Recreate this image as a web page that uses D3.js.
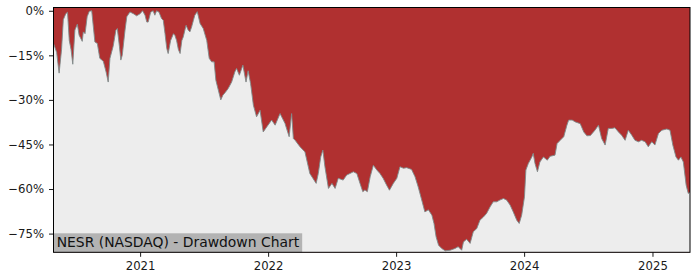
<!DOCTYPE html>
<html>
<head>
<meta charset="utf-8">
<script src="https://cdn.jsdelivr.net/npm/d3@7"></script>
<style>
  body { margin: 0; background: #fff; }
  svg { display: block; font-family: "DejaVu Sans", sans-serif; }
</style>
</head>
<body>
<svg width="700" height="280"></svg>
<script>
// drawdown series (percent below previous peak)
var dates = [
  "2020-04-29","2020-05-08","2020-05-15","2020-05-22","2020-05-27","2020-06-03","2020-06-08","2020-06-13",
  "2020-06-18","2020-06-23","2020-06-29","2020-07-06","2020-07-11","2020-07-20","2020-07-23","2020-07-28",
  "2020-08-03","2020-08-09","2020-08-16","2020-08-25","2020-09-01","2020-09-08","2020-09-18","2020-09-26",
  "2020-10-02","2020-10-07","2020-10-16","2020-10-24","2020-10-28","2020-11-03","2020-11-07","2020-11-11",
  "2020-11-19","2020-11-24","2020-12-03","2020-12-13","2020-12-22","2021-01-01","2021-01-08","2021-01-15",
  "2021-01-20","2021-01-24","2021-01-31","2021-02-07","2021-02-12","2021-02-17","2021-02-24","2021-03-03",
  "2021-03-08","2021-03-13","2021-03-18","2021-03-22","2021-03-29","2021-04-06","2021-04-10","2021-04-15",
  "2021-04-20","2021-04-25","2021-04-30","2021-05-04","2021-05-12","2021-05-18","2021-05-23","2021-05-28",
  "2021-06-02","2021-06-06","2021-06-13","2021-06-21","2021-06-30","2021-07-10","2021-07-17","2021-07-24",
  "2021-07-31","2021-08-05","2021-08-12","2021-08-19","2021-08-25","2021-08-31","2021-09-09","2021-09-19",
  "2021-09-28","2021-10-03","2021-10-11","2021-10-21","2021-10-30","2021-11-05","2021-11-12","2021-11-20",
  "2021-11-29","2021-12-09","2021-12-18","2021-12-28","2022-01-11","2022-01-21","2022-02-04","2022-02-18",
  "2022-03-02","2022-03-09","2022-03-14","2022-03-19","2022-04-02","2022-04-16","2022-04-30","2022-05-18",
  "2022-05-24","2022-05-31","2022-06-06","2022-06-12","2022-06-22","2022-07-02","2022-07-11","2022-07-20",
  "2022-08-03","2022-08-13","2022-08-22","2022-09-01","2022-09-11","2022-09-20","2022-09-28","2022-10-04",
  "2022-10-11","2022-10-19","2022-10-28","2022-11-07","2022-11-16","2022-11-25","2022-12-05","2022-12-13",
  "2022-12-24","2023-01-03","2023-01-12","2023-01-22","2023-01-31","2023-02-14","2023-02-24","2023-03-05",
  "2023-03-15","2023-03-24","2023-04-03","2023-04-13","2023-04-19","2023-04-25","2023-05-02","2023-05-11",
  "2023-05-21","2023-06-04","2023-06-18","2023-06-27","2023-07-07","2023-07-12","2023-07-21","2023-07-31",
  "2023-08-09","2023-08-19","2023-08-28","2023-09-07","2023-09-16","2023-09-26","2023-10-05","2023-10-15",
  "2023-10-24","2023-11-03","2023-11-12","2023-11-22","2023-12-01","2023-12-11","2023-12-18","2023-12-25",
  "2024-01-02","2024-01-06","2024-01-13","2024-01-23","2024-01-27","2024-02-01","2024-02-08","2024-02-15",
  "2024-02-25","2024-03-07","2024-03-15","2024-03-29","2024-04-04","2024-04-13","2024-04-23","2024-05-02",
  "2024-05-07","2024-05-17","2024-05-26","2024-06-09","2024-06-19","2024-06-28","2024-07-08","2024-07-21",
  "2024-07-31","2024-08-09","2024-08-19","2024-08-28","2024-09-07","2024-09-16","2024-09-26","2024-10-05",
  "2024-10-15","2024-10-24","2024-11-03","2024-11-12","2024-11-22","2024-12-01","2024-12-11","2024-12-20",
  "2024-12-30","2025-01-08","2025-01-18","2025-01-28","2025-02-11","2025-02-20","2025-02-28","2025-03-09",
  "2025-03-16","2025-03-23","2025-03-30","2025-04-07","2025-04-13","2025-04-18"
];
var drawdown = [
  -11, -14, -21, -13, -3, -1, -0.5, -10,
  -13, -18, -6.5, -4.5, -8.2, -10.3, -7.1, -7.7,
  -2, -0.2, 0, -10.5, -11, -16, -17, -20.6,
  -24, -16, -12, -6.5, -6, -12, -16.6, -15,
  -6.5, -2, -0.4, -1, -1.7, -1, 0, -1.5,
  -3.8, -3.8, -0.5, 0, -1.5, 0, -0.5, -2.6,
  -3.2, -7.7, -12.7, -14.4, -10, -7.7, -8.2, -10,
  -13, -14.4, -10, -8.8, -4.9, -6.5, -7.1, -5.4,
  -3.2, -1.5, -0.3, -4.3, -6, -10, -16, -17.2,
  -17.2, -23.4, -26.7, -30, -28.4, -27.6, -26.2, -24,
  -20.6, -19.4, -21.7, -18.3, -24, -20.2, -24.5, -31.8,
  -35.7, -33.5, -40.8, -39.1, -36.8, -38.5, -34.6, -37.9,
  -42.4, -34.6, -43, -43.6, -45.8, -47.5, -54.8, -58.1,
  -54.8, -49.2, -46.9, -52.5, -59.8, -58.1, -59.8, -56.4,
  -57, -55.3, -54.8, -54.2, -54.8, -58.1, -60.9, -60.3,
  -60.9, -55.9, -52, -53.6, -54.8, -56.4, -58.7, -60.4,
  -58.1, -56.4, -52.5, -53, -52.8, -53.4, -55.9, -59.3,
  -63.7, -67.7, -67, -68.8, -71.6, -76.1, -78.9, -80,
  -80.8, -80.6, -80, -79.4, -80.6, -77.8, -76.9, -78.3,
  -74.4, -73.3, -70.5, -69.4, -68.2, -66, -64.3, -64.3,
  -63.7, -63.2, -63.7, -65.4, -67.7, -70.5, -71.6, -68.8,
  -62.6, -53.6, -51.4, -49.2, -48, -51.4, -54.2, -50.9,
  -49.2, -50.3, -49, -48.6, -44.7, -43.6, -42.4, -38.5,
  -36.8, -36.8, -37.4, -38, -40.8, -42.1, -42, -40.2,
  -38.5, -43, -45.2, -39.6, -39.6, -39.4, -40.8, -41.9,
  -43.6, -40.2, -41.9, -43.6, -44.1, -43.6, -44.1, -45.8,
  -44.1, -45.2, -41.3, -40.2, -39.8, -40.2, -45.2, -49.2,
  -50.3, -49.2, -50.9, -58.7, -61.5, -61
];
var yTicks = [0, -15, -30, -45, -60, -75];
var xTickDates = ["2021-01-01", "2022-01-01", "2023-01-01", "2024-01-01", "2025-01-01"];
var xTickLabels = ["2021", "2022", "2023", "2024", "2025"];
var chartLabel = "NESR (NASDAQ) - Drawdown Chart";

var parse = d3.timeParse("%Y-%m-%d");
var data = dates.map(function(d, i) { return {date: parse(d), value: drawdown[i]}; });

var plotLeft = 53.5, plotRight = 690, plotTop = 7.5, plotBottom = 252.3;

var svg = d3.select("svg");

var x = d3.scaleTime()
  .domain(d3.extent(data, function(d) { return d.date; }))
  .range([plotLeft, plotRight]);

var y = d3.scaleLinear()
  .domain([-81.3, 1.1])
  .range([plotBottom, plotTop]);

// red background of the plot = distance to the peak
svg.append("rect")
  .attr("x", plotLeft).attr("y", plotTop)
  .attr("width", plotRight - plotLeft).attr("height", plotBottom - plotTop)
  .attr("fill", "#b03030");

// gray area below the drawdown line
var area = d3.area()
  .x(function(d) { return x(d.date); })
  .y0(plotBottom)
  .y1(function(d) { return y(d.value); });

svg.append("path")
  .datum(data)
  .attr("d", area)
  .attr("fill", "#ededed");

var line = d3.line()
  .x(function(d) { return x(d.date); })
  .y(function(d) { return y(d.value); });

svg.append("path")
  .datum(data)
  .attr("d", line)
  .attr("fill", "none")
  .attr("stroke", "#7f8a8a")
  .attr("stroke-width", 0.9);

// label box
var labelG = svg.append("g");
var labelText = labelG.append("text")
  .attr("x", plotLeft + 3.2)
  .attr("y", 246.7)
  .attr("font-size", "13.9px")
  .attr("fill", "#111")
  .text(chartLabel);
var bb = labelText.node().getBBox();
labelG.insert("rect", "text")
  .attr("x", plotLeft)
  .attr("y", 233.3)
  .attr("width", bb.x + bb.width + 2.5 - plotLeft)
  .attr("height", plotBottom - 233.3)
  .attr("fill", "#b3b3b3");

// axes
var yAxis = d3.axisLeft(y)
  .tickValues(yTicks)
  .tickSize(4.5)
  .tickPadding(5)
  .tickFormat(function(d) { return (d < 0 ? "\u2212" + (-d) : d) + "%"; });

var xAxis = d3.axisBottom(x)
  .tickValues(xTickDates.map(parse))
  .tickSize(4.5)
  .tickPadding(4.5)
  .tickFormat(function(d, i) { return xTickLabels[i]; });

var gy = svg.append("g")
  .attr("transform", "translate(" + plotLeft + ",0)")
  .call(yAxis);
var gx = svg.append("g")
  .attr("transform", "translate(0," + plotBottom + ")")
  .call(xAxis);

[gx, gy].forEach(function(g) {
  g.select(".domain").remove();
  g.selectAll("text").attr("font-size", "11.7px").attr("fill", "#1a1a1a")
    .attr("font-family", "DejaVu Sans");
  g.selectAll("line").attr("stroke", "#000").attr("stroke-width", 0.9);
});

// frame
svg.append("rect")
  .attr("x", plotLeft).attr("y", plotTop)
  .attr("width", plotRight - plotLeft).attr("height", plotBottom - plotTop)
  .attr("fill", "none")
  .attr("stroke", "#000")
  .attr("stroke-width", 1);
</script>
</body>
</html>
